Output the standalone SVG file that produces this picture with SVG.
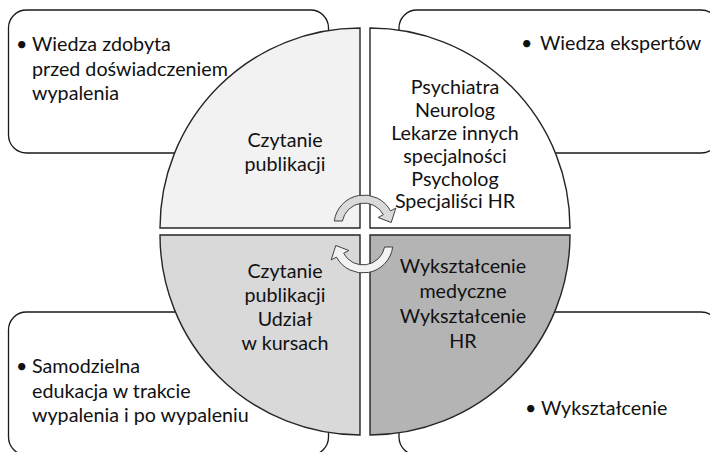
<svg xmlns="http://www.w3.org/2000/svg" width="710" height="452" viewBox="0 0 710 452">
<style>
.box{fill:#ffffff;stroke:#1a1a1a;stroke-width:1.3}
.q{stroke:#262626;stroke-width:1.4}
.arr{stroke:#404040;stroke-width:1}
text{font-family:Lato,"Open Sans","Liberation Sans",sans-serif;font-size:19.7px;fill:#111111}
.c{text-anchor:middle}
</style>
<rect width="710" height="452" fill="#ffffff"/>
<g id="box-tl"><rect class="box" x="8.5" y="10" width="320" height="143" rx="18"/>
<text x="16" y="51">•</text><text x="32" y="51">Wiedza zdobyta</text><text x="32" y="76">przed doświadczeniem</text><text x="32" y="100">wypalenia</text></g>
<g id="box-tr"><rect class="box" x="399" y="10" width="320" height="143" rx="18"/>
<text x="521" y="50">•</text><text x="540" y="50">Wiedza ekspertów</text></g>
<g id="box-bl"><rect class="box" x="8.5" y="312" width="320" height="143" rx="18"/>
<text x="16" y="373">•</text><text x="32" y="373">Samodzielna</text><text x="32" y="398">edukacja w trakcie</text><text x="32" y="422">wypalenia i po wypaleniu</text></g>
<g id="box-br"><rect class="box" x="399" y="312" width="320" height="143" rx="18"/>
<text x="525" y="415">•</text><text x="541" y="415">Wykształcenie</text></g>
<g id="q-tl"><path class="q" fill="#f2f2f2" d="M360 228 L160 228 A200 200 0 0 1 360 28 Z"/>
<text class="c" x="285" y="147">Czytanie</text><text class="c" x="285" y="171">publikacji</text></g>
<g id="q-tr"><path class="q" fill="#ffffff" d="M370 228 L370 28 A200 200 0 0 1 570 228 Z"/>
<text class="c" x="455" y="94">Psychiatra</text><text class="c" x="455" y="117">Neurolog</text><text class="c" x="455" y="140">Lekarze innych</text><text class="c" x="455" y="163">specjalności</text><text class="c" x="455" y="185.5">Psycholog</text><text class="c" x="455" y="208">Specjaliści HR</text></g>
<g id="q-bl"><path class="q" fill="#d9d9d9" d="M360 235 L360 435 A200 200 0 0 1 160 235 Z"/>
<text class="c" x="285" y="278">Czytanie</text><text class="c" x="285" y="302">publikacji</text><text class="c" x="285" y="326">Udział</text><text class="c" x="285" y="350">w kursach</text></g>
<g id="q-br"><path class="q" fill="#b4b4b4" d="M370 235 L570 235 A200 200 0 0 1 370 435 Z"/>
<text class="c" x="463" y="273">Wykształcenie</text><text class="c" x="463" y="298">medyczne</text><text class="c" x="463" y="323">Wykształcenie</text><text class="c" x="463" y="348">HR</text></g>
<g id="connectors">
<path id="arrow-top" class="arr" fill="#dadada" d="M334.3 221 A30 30 0 0 1 390.5 210.9 L395.8 208.1 L391.2 222.5 L378.1 217.5 L383.4 214.7 A22 22 0 0 0 342.4 221 Z"/>
<path id="arrow-bottom" class="arr" fill="#f2f2f2" transform="rotate(180 363.5 234)" d="M334.3 221 A30 30 0 0 1 390.5 210.9 L395.8 208.1 L391.2 222.5 L378.1 217.5 L383.4 214.7 A22 22 0 0 0 342.4 221 Z"/>
</g>
</svg>
